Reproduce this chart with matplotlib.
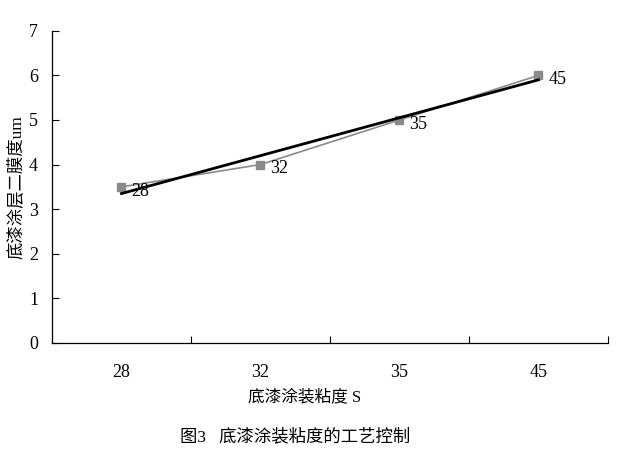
import numpy as np
import matplotlib.pyplot as plt

plt.rcParams['font.family'] = ['Liberation Serif', 'Noto Sans CJK SC']

# 数据
categories = ['28', '32', '35', '45']
thickness = [3.5, 4.0, 5.0, 6.0]
y_ticks = [0, 1, 2, 3, 4, 5, 6, 7]

x = np.arange(len(categories))
# 线性趋势线
k, b = np.polyfit(x, thickness, 1)

fig = plt.figure(figsize=(6.3, 4.53), dpi=100)
ax = fig.add_axes([0.0825, 0.243, 0.8825, 0.689])

ax.plot(x, thickness, '-s', color='#8a8a8a', linewidth=1.2, markersize=6, zorder=2)
ax.plot(x, k * x + b, color='black', linewidth=2.0, zorder=3)

for xi, yi, lab in zip(x, thickness, categories):
    ax.annotate(lab, (xi, yi), xytext=(7, -3), textcoords='offset points',
                ha='left', va='center', fontsize=13)

ax.set_xlim(-0.5, len(categories) - 0.5)
ax.set_ylim(0, 7)
ax.set_yticks(y_ticks)
ax.set_xticks(np.arange(len(categories) + 1) - 0.5)
ax.set_xticklabels([])
ax.set_xticks(x, minor=True)
ax.set_xticklabels(categories, minor=True)
ax.tick_params(axis='x', which='major', direction='in', length=5, width=0.8)
ax.tick_params(axis='x', which='minor', length=0, pad=15, labelsize=13)
ax.tick_params(axis='y', direction='in', length=5, width=0.8, pad=10, labelsize=13)

for s in ['top', 'right']:
    ax.spines[s].set_visible(False)
for s in ['left', 'bottom']:
    ax.spines[s].set_linewidth(0.9)

ax.set_ylabel('底漆涂层二膜度um', fontsize=12.5, labelpad=3)
fig.text(0.484, 0.123, '底漆涂装粘度 S', ha='center', va='center', fontsize=12)
fig.text(0.468, 0.035, '图3   底漆涂装粘度的工艺控制', ha='center', va='center', fontsize=12.5)

plt.savefig('out.png', dpi=100)
